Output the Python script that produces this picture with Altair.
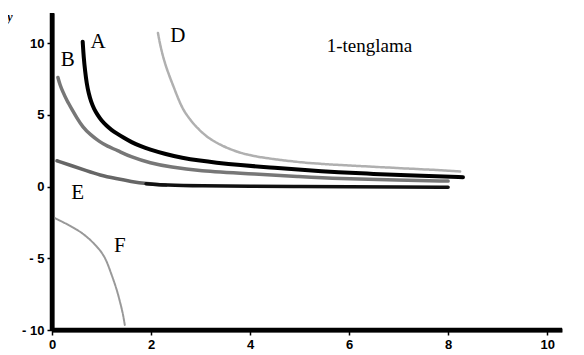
import altair as alt
import pandas as pd

# curve data
A_x = [0.62, 0.64, 0.67, 0.7, 0.74, 0.79, 0.85, 0.92, 1.0, 1.1, 1.2, 1.31, 1.45, 1.6, 1.8, 1.96,
       2.3, 2.62, 3.0, 3.3, 3.76, 4.5, 5.2, 5.76, 6.5, 7.2, 7.76, 8.3]
A_y = [10.1, 9.0, 8.0, 7.2, 6.5, 5.9, 5.4, 5.0, 4.6, 4.25, 3.95, 3.7, 3.4, 3.1, 2.8, 2.6,
       2.25, 2.0, 1.8, 1.67, 1.5, 1.3, 1.12, 1.0, 0.88, 0.78, 0.72, 0.65]

B_x = [0.12, 0.16, 0.22, 0.3, 0.4, 0.5, 0.62, 0.78, 0.95, 1.12, 1.31, 1.6, 1.98, 2.4, 2.96, 3.96, 5.0, 5.76, 7.0, 8.0]
B_y = [7.6, 7.1, 6.6, 6.0, 5.4, 4.8, 4.15, 3.6, 3.15, 2.8, 2.54, 2.05, 1.64, 1.35, 1.1, 0.9, 0.7, 0.55, 0.45, 0.38]

D_x = [2.14, 2.2, 2.28, 2.36, 2.44, 2.54, 2.64, 2.76, 2.9, 3.05, 3.2, 3.4, 3.6, 3.8, 4.1, 4.5,
       5.1, 5.8, 6.5, 7.2, 7.8, 8.25]
D_y = [10.7, 9.6, 8.6, 7.8, 7.1, 6.2, 5.4, 4.8, 4.2, 3.7, 3.3, 2.9, 2.6, 2.35, 2.1, 1.9,
       1.65, 1.5, 1.38, 1.25, 1.15, 1.05]

E_x = [0.1, 0.4, 0.7, 0.96, 1.3, 1.6, 1.9, 2.3, 3.0, 4.0, 5.0, 6.0, 7.0, 8.0]
E_y = [1.8, 1.45, 1.1, 0.8, 0.55, 0.35, 0.2, 0.1, 0.05, 0.02, 0.0, -0.02, -0.04, -0.05]

F_x = [0.06, 0.35, 0.62, 0.8, 0.97, 1.08, 1.17, 1.24, 1.31, 1.37, 1.43, 1.47]
F_y = [-2.2, -2.7, -3.24, -3.8, -4.42, -5.0, -5.82, -6.5, -7.2, -8.0, -8.8, -9.65]

label_text = ["A", "B", "D", "E", "F"]
label_x = [0.93, 0.32, 2.54, 0.52, 1.37]
label_y = [10.07, 8.8, 10.5, -0.45, -4.15]

title_text = "1-tenglama"
x_ticks = [0, 2, 4, 6, 8, 10]
y_ticks = [-10, -5, 0, 5, 10]
x_range = [0, 10.3]
y_range = [-10, 12.1]

xs = alt.Scale(domain=x_range, nice=False, zero=False)
ys = alt.Scale(domain=y_range, nice=False, zero=False)

x_axis = alt.Axis(values=x_ticks, grid=False, title=None, labelFlush=False,
                  domainColor="black", domainWidth=4)
y_axis = alt.Axis(values=y_ticks, grid=False, title=None, labelFlush=False,
                  domainColor="black", domainWidth=4,
                  labelExpr="datum.value < 0 ? '- ' + abs(datum.value) : datum.label")

X = lambda f: alt.X(f, scale=xs, axis=x_axis)
Y = lambda f: alt.Y(f, scale=ys, axis=y_axis)


def curve(xv, yv, color, width, opacity=1.0, dash=None):
    df = pd.DataFrame({"x": xv, "y": yv})
    kw = dict(color=color, strokeWidth=width, opacity=opacity, interpolate="basis",
              strokeCap="round")
    if dash:
        kw["strokeDash"] = dash
    return alt.Chart(df).mark_line(**kw).encode(x=X("x:Q"), y=Y("y:Q"), order="x:Q")


ldf = pd.DataFrame({"t": label_text, "x": label_x, "y": label_y})
labels = alt.Chart(ldf).mark_text(font="Liberation Serif", fontSize=21, color="black").encode(
    x=X("x:Q"), y=Y("y:Q"), text="t:N")

title = alt.Chart(pd.DataFrame({"t": [title_text], "x": [6.41], "y": [9.8]})).mark_text(
    font="Liberation Serif", fontSize=19, color="black").encode(
    x=X("x:Q"), y=Y("y:Q"), text="t:N")

ylab = alt.Chart(pd.DataFrame({"t": ["y"]})).mark_text(
    font="Liberation Serif", fontSize=12, fontStyle="italic", fontWeight="bold", color="black").encode(
    x=alt.value(-42), y=alt.value(4), text="t:N")

yrule = alt.Chart(pd.DataFrame({"a": [x_range[0]]})).mark_rule(color="black", strokeWidth=4.5).encode(
    x=X("a:Q"), y=alt.datum(y_range[0]), y2=alt.datum(y_range[1]))
xrule = alt.Chart(pd.DataFrame({"a": [y_range[0]]})).mark_rule(color="black", strokeWidth=4.5).encode(
    y=Y("a:Q"), x=alt.datum(x_range[0]), x2=alt.datum(x_range[1]))

E_split = 5
chart = alt.layer(
    curve(D_x, D_y, "#b0b0b0", 2.5, dash=[3, 1]),
    curve(F_x, F_y, "#999999", 2, dash=[3, 1]),
    curve(B_x, B_y, "#777777", 3.5),
    curve(E_x[:E_split + 3], E_y[:E_split + 3], "#666666", 3.5),
    curve(E_x[E_split + 1:], E_y[E_split + 1:], "#111111", 3.5),
    curve(A_x, A_y, "#000000", 4),
    yrule,
    xrule,
    labels,
    title,
    ylab,
).properties(
    width=510,
    height=317,
    autosize=alt.AutoSizeParams(type="none"),
    padding={"left": 44, "top": 5, "right": 14, "bottom": 25},
).configure_view(stroke=None).configure_axis(
    tickColor="black", tickWidth=1.5, tickSize=5,
    labelFont="Liberation Sans", labelFontWeight="bold", labelFontSize=13,
    labelColor="black", labelPadding=3,
)

chart.save("out.html", embed_options={"renderer": "svg", "actions": False})
